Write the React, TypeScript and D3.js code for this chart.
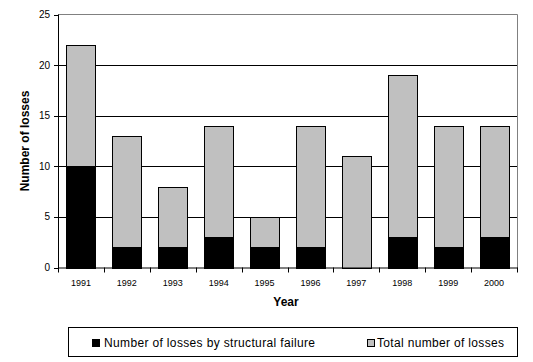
import * as d3 from 'd3';

const years = ['1991', '1992', '1993', '1994', '1995', '1996', '1997', '1998', '1999', '2000'];
const structural = [10, 2, 2, 3, 2, 2, 0, 3, 2, 3];
const total = [22, 13, 8, 14, 5, 14, 11, 19, 14, 14];
const yTicks = [0, 5, 10, 15, 20, 25];

const width = 533;
const height = 362;
const plot = { left: 58, right: 517, top: 14.5, bottom: 267.5 };
const font = 'Arial, "Liberation Sans", sans-serif';

export default function App() {
  const x = d3
    .scaleBand<string>()
    .domain(years)
    .range([plot.left, plot.right])
    .paddingInner(0.37)
    .paddingOuter(0.185);

  const y = d3.scaleLinear().domain([0, 25]).range([plot.bottom, plot.top]);

  const step = x.step();
  const boundaries = d3.range(years.length + 1).map((i) => plot.left + i * step);

  return (
    <svg
      width={width}
      height={height}
      style={{ position: 'absolute', left: 0, top: 0, background: '#fff' }}
      fontFamily={font}
    >
      {/* gridlines */}
      {yTicks.slice(1, -1).map((t) => (
        <line
          key={t}
          x1={plot.left}
          x2={plot.right}
          y1={Math.round(y(t)) + 0.5}
          y2={Math.round(y(t)) + 0.5}
          stroke="#000"
        />
      ))}
      {/* plot border top/right in gray */}
      <path
        d={`M${plot.left},${plot.top}H${plot.right + 0.5}V${plot.bottom}`}
        fill="none"
        stroke="#808080"
      />

      {/* bars */}
      {years.map((yr, i) => (
        <g key={yr}>
          <rect
            x={Math.round(x(yr)!) + 0.5}
            y={Math.round(y(total[i])) + 0.5}
            width={Math.round(x.bandwidth())}
            height={Math.round(y(0)) - Math.round(y(total[i]))}
            fill="#c0c0c0"
            stroke="#000"
          />
          {structural[i] > 0 && (
            <rect
              x={Math.round(x(yr)!) + 0.5}
              y={Math.round(y(structural[i])) + 0.5}
              width={Math.round(x.bandwidth())}
              height={Math.round(y(0)) - Math.round(y(structural[i]))}
              fill="#000"
              stroke="#000"
            />
          )}
        </g>
      ))}

      {/* axes */}
      <line x1={plot.left + 0.5} x2={plot.left + 0.5} y1={plot.top} y2={plot.bottom + 0.5} stroke="#000" />
      <line x1={plot.left} x2={plot.right + 1} y1={plot.bottom + 0.5} y2={plot.bottom + 0.5} stroke="#000" />
      {yTicks.map((t) => (
        <g key={t}>
          <line
            x1={plot.left - 4}
            x2={plot.left}
            y1={Math.round(y(t)) + 0.5}
            y2={Math.round(y(t)) + 0.5}
            stroke="#000"
          />
          <text x={50} y={y(t)} dy="0.35em" textAnchor="end" fontSize={10}>
            {t}
          </text>
        </g>
      ))}
      {boundaries.map((bx, i) => (
        <line
          key={i}
          x1={Math.round(bx) + 0.5}
          x2={Math.round(bx) + 0.5}
          y1={plot.bottom}
          y2={plot.bottom + 5}
          stroke="#000"
        />
      ))}
      {years.map((yr) => (
        <text
          key={yr}
          x={x(yr)! + x.bandwidth() / 2}
          y={283}
          dy="0.35em"
          textAnchor="middle"
          fontSize={9}
        >
          {yr}
        </text>
      ))}

      {/* axis titles */}
      <text x={286} y={306} textAnchor="middle" fontSize={12} fontWeight="bold">
        Year
      </text>
      <text
        transform={`translate(29,${(plot.top + plot.bottom) / 2}) rotate(-90)`}
        textAnchor="middle"
        fontSize={12}
        fontWeight="bold"
      >
        Number of losses
      </text>

      {/* legend */}
      <rect x={68.5} y={327.5} width={449} height={29} fill="#fff" stroke="#000" />
      <rect x={92.5} y={339.5} width={7} height={7} fill="#000" stroke="#000" />
      <text x={104} y={343} dy="0.35em" fontSize={12} textLength={211} lengthAdjust="spacing">
        Number of losses by structural failure
      </text>
      <rect x={367.5} y={339.5} width={7} height={7} fill="#c0c0c0" stroke="#000" />
      <text x={377} y={343} dy="0.35em" fontSize={12} textLength={127} lengthAdjust="spacing">
        Total number of losses
      </text>
    </svg>
  );
}
